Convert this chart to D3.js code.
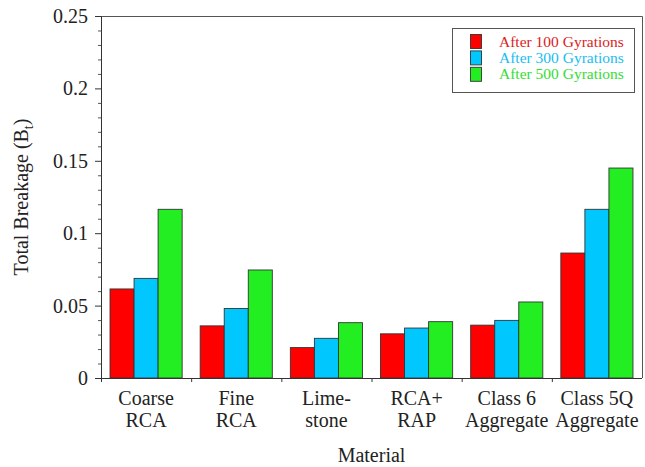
<!DOCTYPE html>
<html>
<head>
<meta charset="utf-8">
<script src="https://cdn.jsdelivr.net/npm/d3@7"></script>
<style>
  html, body { margin: 0; padding: 0; background: #fff; }
  svg { display: block; font-family: "Liberation Serif", "Times New Roman", serif; }
</style>
</head>
<body>
<svg id="chart" width="645" height="467"></svg>
<script>
// Materials tested (two-line labels on the x axis)
const categories = ["Coarse RCA", "Fine RCA", "Limestone", "RCA+RAP", "Class 6 Aggregate", "Class 5Q Aggregate"];
const categoryLines = [["Coarse", "RCA"], ["Fine", "RCA"], ["Lime-", "stone"], ["RCA+", "RAP"], ["Class 6", "Aggregate"], ["Class 5Q", "Aggregate"]];

// Total breakage B_t per gyration count
const seriesNames = ["After 100 Gyrations", "After 300 Gyrations", "After 500 Gyrations"];
const after100 = [0.0615, 0.0360, 0.0210, 0.0305, 0.0365, 0.0863];
const after300 = [0.0688, 0.0480, 0.0274, 0.0345, 0.0398, 0.1165];
const after500 = [0.1165, 0.0746, 0.0382, 0.0389, 0.0525, 0.1450];

const yTicks = [0, 0.05, 0.1, 0.15, 0.2, 0.25];
const yMinorTicks = d3.range(0, 0.2501, 0.01);

const fills = ["#ff0000", "#00c8ff", "#22ee22"];
const textFills = ["#dd2222", "#20bdf0", "#33dd33"];

const rows = categories.map((c, i) => ({
  category: c,
  lines: categoryLines[i],
  values: [after100[i], after300[i], after500[i]]
}));

const svg = d3.select("#chart");
const plotLeft = 101, plotRight = 642, plotTop = 16, plotBottom = 378;

const x = d3.scaleBand().domain(categories).range([plotLeft, plotRight]).paddingInner(0.2).paddingOuter(0.1);
const xInner = d3.scaleBand().domain(seriesNames).range([0, x.bandwidth()]);
const y = d3.scaleLinear().domain([0, 0.25]).range([plotBottom, plotTop]);

// Frame (top and right edges)
svg.append("path")
  .attr("d", `M${plotLeft},${plotTop + 0.5}H${plotRight + 0.5}V${plotBottom}`)
  .attr("fill", "none").attr("stroke", "#555").attr("stroke-width", 1);

// Bars
const groups = svg.append("g").selectAll("g").data(rows).join("g")
  .attr("transform", d => `translate(${x(d.category)},0)`);
groups.selectAll("rect").data(d => d.values.map((v, k) => ({ v, k }))).join("rect")
  .attr("x", d => xInner(seriesNames[d.k]))
  .attr("y", d => y(d.v))
  .attr("width", xInner.bandwidth())
  .attr("height", d => y(0) - y(d.v))
  .attr("fill", d => fills[d.k])
  .attr("stroke", "#333").attr("stroke-width", 0.9);

// Y axis: major ticks with labels, minor ticks every 0.01
const yAxis = d3.axisLeft(y).tickValues(yTicks).tickFormat(d3.format("")).tickSize(6).tickPadding(7);
const gy = svg.append("g").attr("transform", `translate(${plotLeft},0)`).call(yAxis);
gy.select(".domain").attr("stroke", "#333");
gy.selectAll(".tick line").attr("stroke", "#333");
gy.selectAll(".tick text").attr("font-size", 20).attr("font-family", "Liberation Serif").attr("fill", "#222");
svg.append("g").attr("transform", `translate(${plotLeft},0)`)
  .call(d3.axisLeft(y).tickValues(yMinorTicks.filter(v => Math.round(v * 100) % 5 !== 0)).tickSize(3).tickFormat(""))
  .call(g => g.select(".domain").remove())
  .call(g => g.selectAll(".tick line").attr("stroke", "#555"));

// X axis: ticks at the group boundaries
const boundaries = categories.map(c => x(c) - x.step() * x.paddingOuter());
const xb = d3.scaleLinear().domain([plotLeft, plotRight]).range([plotLeft, plotRight]);
const gx = svg.append("g").attr("transform", `translate(0,${plotBottom})`)
  .call(d3.axisBottom(xb).tickValues(boundaries).tickSize(4).tickFormat(""));
gx.select(".domain").attr("stroke", "#333").attr("d", `M${plotLeft - 4},0.5H${plotRight}`);
gx.selectAll(".tick line").attr("stroke", "#333");

// Category labels (two lines each)
const labels = svg.append("g").selectAll("text").data(rows).join("text")
  .attr("x", d => x(d.category) + x.bandwidth() / 2)
  .attr("y", 405)
  .attr("text-anchor", "middle").attr("font-size", 20).attr("fill", "#222");
labels.selectAll("tspan").data(d => d.lines).join("tspan")
  .attr("x", function () { return d3.select(this.parentNode).attr("x"); })
  .attr("dy", (d, i) => i === 0 ? 0 : 21.5)
  .text(d => d);

// Axis titles
svg.append("text")
  .attr("x", (plotLeft + plotRight) / 2).attr("y", 462)
  .attr("text-anchor", "middle").attr("font-size", 20).attr("fill", "#222")
  .text("Material");

const yt = svg.append("text")
  .attr("transform", `translate(28,${(plotTop + plotBottom) / 2}) rotate(-90)`)
  .attr("text-anchor", "middle").attr("font-size", 20).attr("fill", "#222");
yt.append("tspan").text("Total Breakage (B");
yt.append("tspan").attr("font-size", 14).attr("dy", 5).text("t");
yt.append("tspan").attr("dy", -5).text(")");

// Legend
const lg = svg.append("g");
lg.append("rect").attr("x", 452.5).attr("y", 28.5).attr("width", 182).attr("height", 64)
  .attr("fill", "#fff").attr("stroke", "#555").attr("stroke-width", 1);
const items = lg.selectAll("g.item").data(seriesNames).join("g").attr("class", "item")
  .attr("transform", (d, i) => `translate(0,${34 + i * 16.4})`);
items.append("rect").attr("x", 470.5).attr("y", 0.5).attr("width", 11).attr("height", 14)
  .attr("fill", (d, i) => fills[i]).attr("stroke", "#333").attr("stroke-width", 0.9);
items.append("text").attr("x", 499).attr("y", 12.5)
  .attr("font-size", 15.5).attr("fill", (d, i) => textFills[i]).text(d => d);
</script>
</body>
</html>
